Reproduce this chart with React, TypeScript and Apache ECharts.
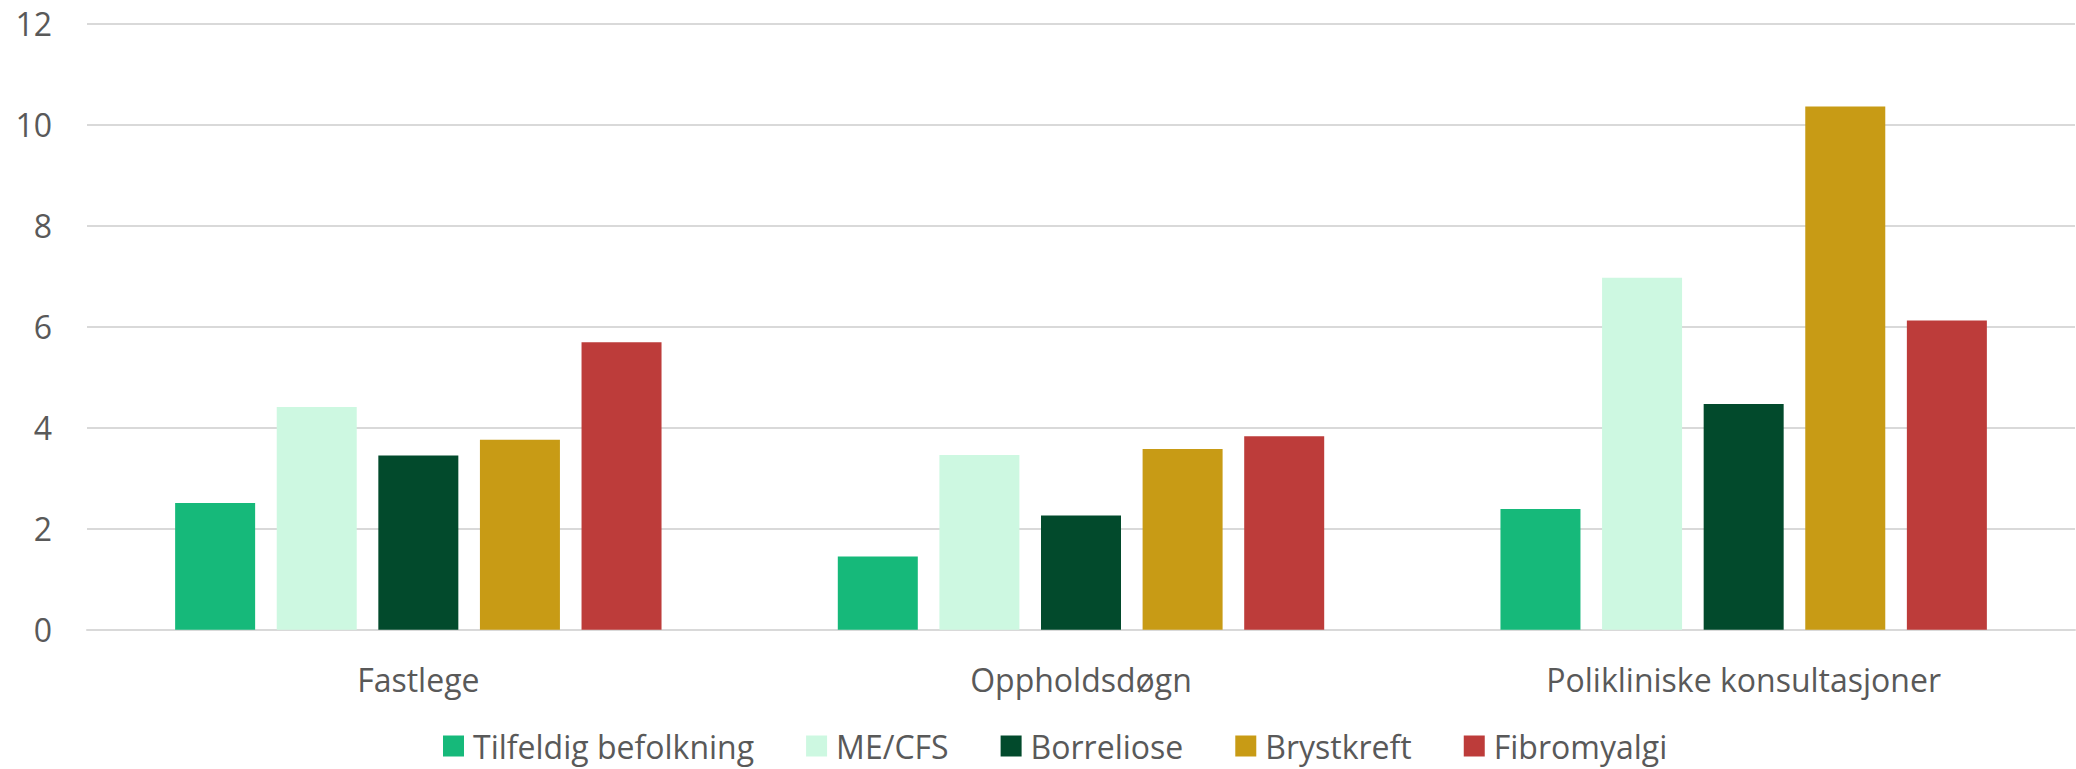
import React, { useEffect, useRef } from "react";
import * as echarts from "echarts";

const categories = ["Fastlege", "Oppholdsdøgn", "Polikliniske konsultasjoner"];
const seriesNames = ["Tilfeldig befolkning", "ME/CFS", "Borreliose", "Brystkreft", "Fibromyalgi"];
const tilfeldig = [2.51, 1.45, 2.39];
const meCfs = [4.41, 3.46, 6.97];
const borreliose = [3.45, 2.26, 4.47];
const brystkreft = [3.76, 3.58, 10.36];
const fibromyalgi = [5.69, 3.83, 6.12];
const seriesValues = [tilfeldig, meCfs, borreliose, brystkreft, fibromyalgi];
const colors = ["#16B97A", "#CDF8E1", "#024A2C", "#C89B15", "#BD3C3A"];
const yTicks = { min: 0, max: 12, interval: 2 };

const FONT = "'Open Sans', 'Noto Sans', sans-serif";
const TEXT_COLOR = "#595959";

export default function App() {
  const ref = useRef<HTMLDivElement>(null);
  useEffect(() => {
    if (!ref.current) return;
    const chart = echarts.init(ref.current, undefined, { renderer: "svg" });
    chart.setOption({
      animation: false,
      backgroundColor: "#ffffff",
      textStyle: { fontFamily: FONT },
      grid: { left: 87, right: 1, top: 23.6, bottom: 139.3, containLabel: false },
      legend: {
        data: seriesNames,
        left: 443,
        top: 730,
        padding: 0,
        itemWidth: 21,
        itemHeight: 21,
        itemGap: 52,
        icon: "rect",
        textStyle: { fontFamily: FONT, fontSize: 32, color: TEXT_COLOR, padding: [0, 0, 0, 4] },
      },
      xAxis: {
        type: "category",
        data: categories,
        axisLine: { show: true, lineStyle: { color: "#D9D9D9", width: 2 } },
        axisTick: { show: false },
        axisLabel: { fontFamily: FONT, fontSize: 32, color: TEXT_COLOR, margin: 34 },
        splitLine: { show: false },
      },
      yAxis: {
        type: "value",
        min: yTicks.min,
        max: yTicks.max,
        interval: yTicks.interval,
        axisLine: { show: false },
        axisTick: { show: false },
        axisLabel: { fontFamily: FONT, fontSize: 32, color: TEXT_COLOR, margin: 35 },
        splitLine: { show: true, lineStyle: { color: "#D9D9D9", width: 2 } },
      },
      series: seriesNames.map((name, i) => ({
        name,
        type: "bar",
        data: seriesValues[i],
        barWidth: 80,
        barGap: "27%",
        itemStyle: { color: colors[i] },
      })),
    });
    return () => chart.dispose();
  }, []);
  return (
    <div
      ref={ref}
      style={{ position: "fixed", left: 0, top: 0, width: 2076, height: 769, background: "#fff" }}
    />
  );
}
